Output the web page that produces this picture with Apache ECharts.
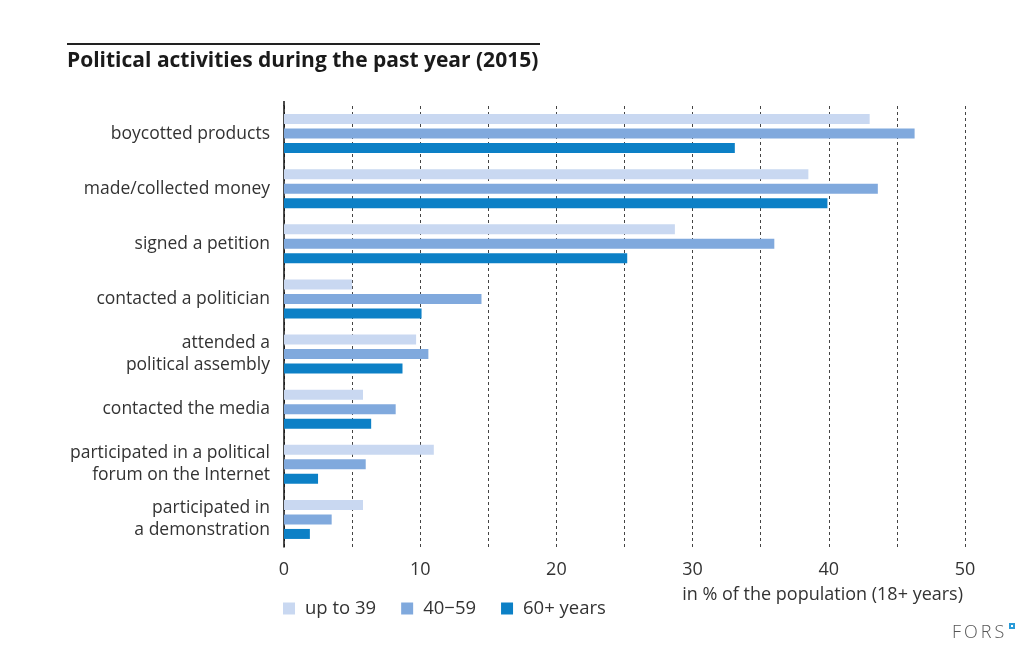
<!DOCTYPE html>
<html>
<head>
<meta charset="utf-8">
<script src="https://cdn.jsdelivr.net/npm/echarts@6/dist/echarts.min.js"></script>
<style>
html,body{margin:0;padding:0;background:#fff;}
#chart{width:1035px;height:660px;}
</style>
</head>
<body>
<div id="chart"></div>
<script>
const categories = [
  "boycotted products",
  "made/collected money",
  "signed a petition",
  "contacted a politician",
  "attended a\npolitical assembly",
  "contacted the media",
  "participated in a political\nforum on the Internet",
  "participated in\na demonstration"
];
const seriesNames = ["up to 39", "40\u221259", "60+ years"];
const upTo39 = [43.0, 38.5, 28.7, 5.0, 9.7, 5.8, 11.0, 5.8];
const age40to59 = [46.3, 43.6, 36.0, 14.5, 10.6, 8.2, 6.0, 3.5];
const age60plus = [33.1, 39.9, 25.2, 10.1, 8.7, 6.4, 2.5, 1.9];
const xTicks = [0, 10, 20, 30, 40, 50];

const colors = ["#c9d8f1", "#80a9dd", "#0c80c6"];
const FONT = "'Open Sans', 'Noto Sans', sans-serif";

const chart = echarts.init(document.getElementById('chart'), null, {renderer: 'canvas'});
const seriesData = [upTo39, age40to59, age60plus];

chart.setOption({
  animation: false,
  textStyle: {fontFamily: FONT},
  title: {
    text: "Political activities during the past year (2015)",
    left: 62, top: 46,
    textStyle: {fontFamily: FONT, fontSize: 21, fontWeight: 'bold', color: '#1a1a1a'}
  },
  legend: {
    data: seriesNames,
    left: 278, top: 594,
    icon: 'rect', itemWidth: 12, itemHeight: 12, itemGap: 25,
    textStyle: {fontFamily: FONT, fontSize: 18.5, color: '#333', padding: [0,0,0,5]}
  },
  grid: {left: 284, right: 70, top: 106, bottom: 113, containLabel: false},
  xAxis: {
    type: 'value', min: 0, max: 50, interval: 5,
    axisLine: {show: false}, axisTick: {show: false},
    axisLabel: {
      fontFamily: FONT, fontSize: 18, color: '#333', margin: 14,
      formatter: v => xTicks.indexOf(v) >= 0 ? String(v) : ''
    },
    splitLine: {show: true, lineStyle: {type: [3, 3], color: '#444', width: 1}},
    name: "in % of the population (18+ years)",
    nameLocation: 'end', nameGap: -2,
    nameTextStyle: {fontFamily: FONT, fontSize: 18, color: '#333', align: 'right', verticalAlign: 'top', padding: [39, 0, 0, 0]}
  },
  yAxis: {
    type: 'category', data: categories, inverse: true,
    axisLine: {show: true, lineStyle: {color: '#111', width: 1.5}},
    axisTick: {show: false},
    axisLabel: {fontFamily: FONT, fontSize: 17.5, color: '#333', margin: 14, lineHeight: 22, align: 'right'}
  },
  series: seriesNames.map((n, i) => ({
    name: n, type: 'bar', data: seriesData[i],
    barWidth: 10, barGap: '45%',
    itemStyle: {color: colors[i]}
  })),
  graphic: [
    {type: 'rect', shape: {x: 67, y: 43, width: 473, height: 2}, style: {fill: '#222'}},
    {type: 'line', shape: {x1: 284, y1: 101, x2: 284, y2: 106}, style: {stroke: '#111', lineWidth: 1.5}},
    {type: 'text', left: 952, top: 624, style: {text: 'F\u2009O\u2009R\u2009S', font: "300 18px 'Open Sans', sans-serif", fill: '#555'}},
    {type: 'rect', shape: {x: 1009, y: 623, width: 6, height: 6}, style: {fill: '#2a9bd8'}},
    {type: 'rect', shape: {x: 1011, y: 625, width: 2, height: 2}, style: {fill: '#fff'}}
  ]
});
</script>
</body>
</html>
